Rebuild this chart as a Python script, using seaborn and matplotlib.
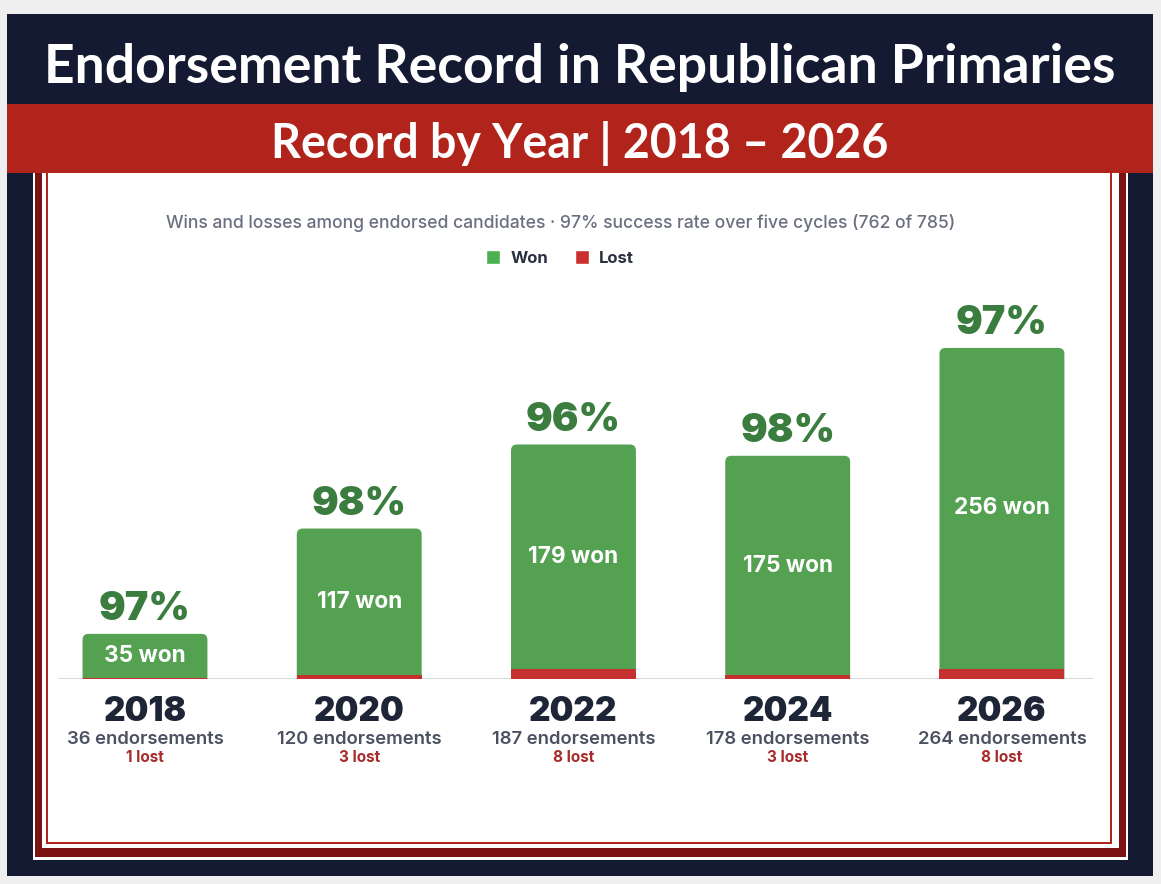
import matplotlib
matplotlib.use('Agg')
import matplotlib.pyplot as plt
import seaborn as sns
import pandas as pd
from matplotlib.patches import Rectangle, FancyBboxPatch, Patch

# Data
years = ['2018', '2020', '2022', '2024', '2026']
endorsements = [36, 120, 187, 178, 264]
won = [35, 117, 179, 175, 256]
lost = [1, 3, 8, 3, 8]

df = pd.DataFrame({'year': years, 'total': endorsements, 'won': won, 'lost': lost})
df['pct'] = (100 * df['won'] / df['total']).round().astype(int)

# Colours
NAVY = '#151a33'
RED_BAND = '#b1241b'
DARK_RED = '#7c1313'
BORDER_RED = '#b3231e'
GREEN = '#53a151'
GREEN_TXT = '#3a7d3e'
LOST_RED = '#c53030'
YEAR_TXT = '#1e2536'
GRAY_TXT = '#4b5160'
SUB_TXT = '#6b7080'

sns.set_theme(style='white')
plt.rcParams['font.family'] = ['Inter', 'DejaVu Sans']

W, H = 1161, 884
fig = plt.figure(figsize=(W / 100, H / 100), dpi=100)
fig.patch.set_facecolor('#efefef')

# background frame drawn in pixel coordinates
bg = fig.add_axes([0, 0, 1, 1])
bg.set_xlim(0, W)
bg.set_ylim(H, 0)
bg.axis('off')


def box(x0, y0, x1, y1, color):
    bg.add_patch(Rectangle((x0, y0), x1 - x0, y1 - y0, color=color, lw=0))


box(7, 14, 1153, 876, NAVY)
box(7, 104, 1153, 173, RED_BAND)
box(33, 173, 1128, 860, 'white')
box(35, 173, 1126, 857, DARK_RED)
box(42, 173, 1119, 848, 'white')
box(46, 173, 1112, 844, BORDER_RED)
box(48, 173, 1110, 842, 'white')

head_font = ['Lato', 'DejaVu Sans']
bg.text(580, 63, 'Endorsement Record in Republican Primaries', color='white',
        fontsize=38.5, fontweight='bold', family=head_font,
        ha='center', va='center_baseline')
bg.text(580, 140, 'Record by Year | 2018 \u2013 2026', color='white',
        fontsize=33.5, fontweight='bold', family=head_font,
        ha='center', va='center_baseline')

bg.text(561, 223, 'Wins and losses among endorsed candidates \u00b7 97% success rate over five cycles (762 of 785)',
        color=SUB_TXT, fontsize=12.6, fontweight='medium', ha='center', va='center')

# chart axes
left, right, base, top = 58, 1093, 679, 290
ax = fig.add_axes([left / W, (H - base) / H, (right - left) / W, (base - top) / H])
ax.patch.set_alpha(0)

bar_w = 0.583
sns.barplot(data=df, x='year', y='total', color=GREEN, width=bar_w, linewidth=0,
            saturation=1, errorbar=None, ax=ax, zorder=2)

px_x = (right - left) / 4.831
px_y = 1.254
xlim = (-0.406, 4.425)
ylim = (0, (base - top) / px_y)

# swap the green bars for ones with rounded tops (bottom corners hidden under the baseline)
rad = 6
for p in list(ax.patches):
    x, w, h = p.get_x(), p.get_width(), p.get_height()
    r_x = rad / px_x
    r_y = rad / px_y
    fb = FancyBboxPatch((x, -2 * r_y), w, h + 2 * r_y,
                        boxstyle=f'round,pad=0,rounding_size={r_x}',
                        mutation_aspect=r_y / r_x, color=GREEN, lw=0, zorder=2)
    ax.add_patch(fb)
    p.remove()

sns.barplot(data=df, x='year', y='lost', color=LOST_RED, width=bar_w, linewidth=0,
            saturation=1, errorbar=None, ax=ax, zorder=3)

ax.axhline(0, color='#d4d6dc', lw=2, zorder=1)

for i, row in df.iterrows():
    ax.annotate(f"{row['pct']}%", (i, row['total']), xytext=(0, 14), textcoords='offset pixels',
                ha='center', va='baseline', color=GREEN_TXT, fontsize=28.5, fontweight='black')
    ax.text(i, row['lost'] + row['won'] / 2, f"{row['won']} won", ha='center', va='center',
            color='white', fontsize=16.3, fontweight='bold', zorder=4)
    ax.annotate(row['year'], (i, 0), xytext=(0, -33), textcoords='offset pixels',
                ha='center', va='center', color=YEAR_TXT, fontsize=24, fontweight='black',
                annotation_clip=False)
    ax.annotate(f"{row['total']} endorsements", (i, 0), xytext=(0, -61), textcoords='offset pixels',
                ha='center', va='center', color=GRAY_TXT, fontsize=13.3, fontweight='semibold',
                annotation_clip=False)
    ax.annotate(f"{row['lost']} lost", (i, 0), xytext=(0, -79), textcoords='offset pixels',
                ha='center', va='center', color='#a82a2a', fontsize=11, fontweight='bold',
                annotation_clip=False)

ax.set_xlim(*xlim)
ax.set_ylim(*ylim)
ax.set_xticks([])
ax.set_yticks([])
ax.set_xlabel('')
ax.set_ylabel('')
sns.despine(ax=ax, left=True, bottom=True)

handles = [Patch(facecolor='#4caf50', label='Won'), Patch(facecolor='#cc2f2f', label='Lost')]
leg = fig.legend(handles=handles, loc='center', bbox_to_anchor=(560 / W, 1 - 258 / H), ncol=2,
                 frameon=False, handlelength=0.85, handleheight=0.85, handletextpad=0.6,
                 columnspacing=1.6, prop={'family': ['Inter', 'DejaVu Sans'], 'weight': 'bold', 'size': 12})
for t in leg.get_texts():
    t.set_color('#2a3040')

fig.savefig('out.png', dpi=100)
